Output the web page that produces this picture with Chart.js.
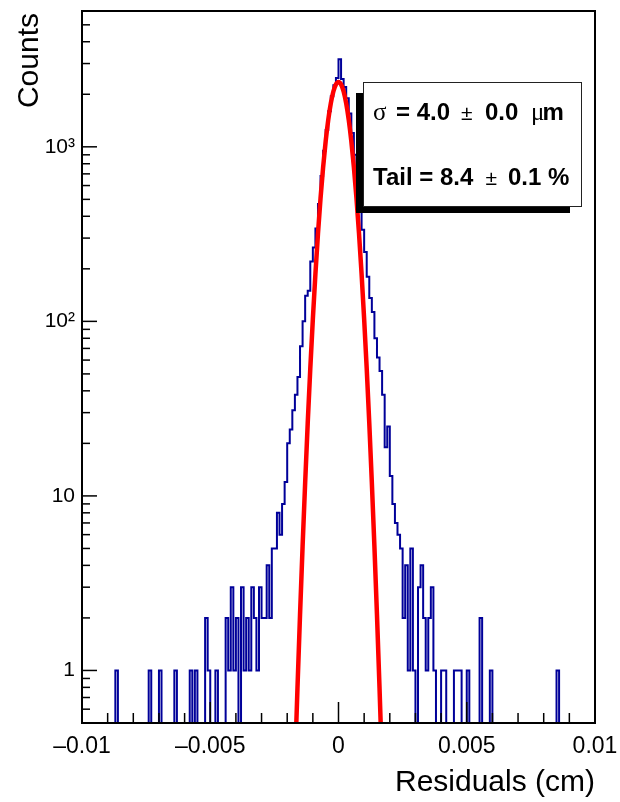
<!DOCTYPE html>
<html>
<head>
<meta charset="utf-8">
<script src="https://cdn.jsdelivr.net/npm/chart.js@4.4.1/dist/chart.umd.min.js"></script>
<style>
  body { margin: 0; background: #fff; }
  #wrap { width: 620px; height: 802px; }
</style>
</head>
<body>
<div id="wrap"><canvas id="myChart" width="620" height="802"></canvas></div>
<script>
// residual histogram: 200 bins of 0.0001 cm between -0.01 and 0.01
var binLow = -0.01;
var binWidth = 0.0001;
var counts = [
  0, 0, 0, 0, 0, 0, 0, 0, 0, 0, 0, 0, 0, 1, 0, 0, 0, 0, 0, 0,
  0, 0, 0, 0, 0, 0, 1, 0, 0, 0, 1, 0, 0, 0, 0, 0, 1, 0, 0, 0,
  0, 0, 1, 0, 1, 0, 0, 0, 2, 1, 0, 0, 1, 0, 0, 0, 2, 1, 3, 1,
  2, 0, 3, 1, 2, 1, 3, 2, 1, 3, 2, 2, 4, 2, 5, 5, 8, 6, 9, 12,
  20, 24, 31, 38, 48, 72, 100, 140, 150, 220, 265, 340, 470, 680, 950, 1250, 1600, 1950, 2250, 2480,
  3180, 2450, 2200, 1900, 1550, 1200, 900, 620, 430, 335, 250, 180, 136, 113, 80, 62, 52, 38, 19, 25,
  13, 9, 7, 6, 5, 2, 4, 1, 5, 1, 0, 3, 4, 2, 1, 2, 3, 1, 0, 0,
  1, 1, 0, 0, 0, 1, 1, 1, 0, 0, 1, 0, 0, 0, 0, 2, 0, 0, 0, 1,
  0, 0, 0, 0, 0, 0, 0, 0, 0, 0, 0, 0, 0, 0, 0, 0, 0, 0, 0, 0,
  0, 0, 0, 0, 0, 1, 0, 0, 0, 0, 0, 0, 0, 0, 0, 0, 0, 0, 0, 0
];

// red fit curve (gaussian core)
var fitX = [-0.0018, -0.0017, -0.0016, -0.0015, -0.0014, -0.0013, -0.0012, -0.0011, -0.0010, -0.0009,
  -0.0008, -0.0007, -0.0006, -0.0005, -0.0004, -0.0003, -0.0002, -0.0001, 0,
  0.0001, 0.0002, 0.0003, 0.0004, 0.0005, 0.0006, 0.0007, 0.0008, 0.0009, 0.0010,
  0.0011, 0.0012, 0.0013, 0.0014, 0.0015, 0.0016, 0.0017, 0.0018];
var fitY = [0.094, 0.28, 0.79, 2.08, 5.14, 11.9, 26.1, 53.6, 103, 187,
  318, 508, 763, 1076, 1425, 1774, 2074, 2278, 2350,
  2278, 2074, 1774, 1425, 1076, 763, 508, 318, 187, 103,
  53.6, 26.1, 11.9, 5.14, 2.08, 0.79, 0.28, 0.094];

var xTickValues = [-0.01, -0.005, 0, 0.005, 0.01];
var xTickLabels = ['\u20130.01', '\u20130.005', '0', '0.005', '0.01'];
var yTickValues = [1, 10, 100, 1000];
var yTickLabels = ['1', '10', '10\u00b2', '10\u00b3'];
var yMin = 0.5, yMax = 6000;

var statLines = [
  [['\u03c3', 'serif'], ['= 4.0', 'bold'], ['\u00b1', 'pm'], ['0.0', 'bold'], ['\u03bc', 'serif'], ['m', 'bold']],
  [['Tail = 8.4', 'bold'], ['\u00b1', 'pm'], ['0.1 %', 'bold']]
];
var statX = [[373, 396, 461, 485, 531, 542.5], [373, 485.5, 508]];
var statBase = [120, 185];

// empty bins sit on the bottom of the frame (log axis can't show 0)
var histPoints = counts.map(function(c, i) {
  return {x: binLow + i * binWidth, y: c > 0 ? c : yMin};
});
histPoints.push({x: binLow + counts.length * binWidth, y: yMin});

var fitPoints = fitX.map(function(x, i) { return {x: x, y: fitY[i]}; });

var fonts = {
  serif: '25px "Liberation Serif"',
  bold: 'bold 24px "Liberation Sans"',
  pm: '21px "Liberation Sans"'
};

var framePlugin = {
  id: 'frame',
  afterDatasetsDraw: function(chart) {
    var ctx = chart.ctx;
    var a = chart.chartArea;
    var xs = chart.scales.x, ys = chart.scales.y;
    ctx.save();
    ctx.strokeStyle = '#000';
    ctx.lineWidth = 1.5;
    // x ticks pointing up into the frame
    xs.ticks.forEach(function(t) {
      var px = xs.getPixelForValue(t.value);
      var major = Math.abs(t.value / 0.005 - Math.round(t.value / 0.005)) < 1e-6;
      ctx.beginPath();
      ctx.moveTo(px, a.bottom);
      ctx.lineTo(px, a.bottom - (major ? 21 : 10));
      ctx.stroke();
    });
    // y ticks pointing right
    ys.ticks.forEach(function(t) {
      var py = ys.getPixelForValue(t.value);
      var lg = Math.log10(t.value);
      var major = Math.abs(lg - Math.round(lg)) < 1e-6;
      ctx.beginPath();
      ctx.moveTo(a.left, py);
      ctx.lineTo(a.left + (major ? 15 : 8), py);
      ctx.stroke();
    });
    ctx.lineWidth = 2;
    ctx.strokeRect(a.left, a.top, a.right - a.left, a.bottom - a.top);

    // stats box with shadow
    ctx.fillStyle = '#000';
    ctx.fillRect(356, 93, 214, 120);
    ctx.fillStyle = '#fff';
    ctx.fillRect(363, 82, 218, 124);
    ctx.lineWidth = 1;
    ctx.strokeStyle = '#222';
    ctx.strokeRect(363.5, 82.5, 218, 124);
    ctx.fillStyle = '#000';
    ctx.textBaseline = 'alphabetic';
    ctx.textAlign = 'left';
    statLines.forEach(function(line, r) {
      line.forEach(function(seg, j) {
        ctx.font = fonts[seg[1]];
        ctx.fillText(seg[0], statX[r][j], statBase[r]);
      });
    });

    // axis titles
    ctx.font = '30px "Liberation Sans"';
    ctx.textAlign = 'right';
    ctx.fillText('Residuals (cm)', a.right, 791);
    ctx.translate(38, a.top + 2);
    ctx.rotate(-Math.PI / 2);
    ctx.fillText('Counts', 0, 0);
    ctx.restore();
  }
};

var ctx = document.getElementById('myChart');
var myChart = new Chart(ctx, {
  type: 'line',
  data: {
    datasets: [{
      data: fitPoints,
      borderColor: '#ff0000',
      borderWidth: 4.5,
      pointRadius: 0,
      cubicInterpolationMode: 'monotone',
      clip: 0,
      order: 0
    }, {
      data: histPoints,
      borderColor: '#000099',
      borderWidth: 2,
      pointRadius: 0,
      stepped: true,
      order: 1
    }]
  },
  options: {
    responsive: false,
    animation: false,
    layout: { padding: { top: 11, right: 25, left: 0, bottom: 0 } },
    plugins: { legend: { display: false }, tooltip: { enabled: false } },
    scales: {
      x: {
        type: 'linear',
        min: -0.01,
        max: 0.01,
        grid: { display: false, drawTicks: false },
        border: { display: false },
        afterBuildTicks: function(s) {
          var t = [];
          for (var i = -10; i <= 10; i++) t.push({ value: i / 1000 });
          s.ticks = t;
        },
        afterFit: function(s) {
          s.height = 79;
          s.paddingLeft = 0; s.paddingRight = 0;
        },
        ticks: {
          autoSkip: false,
          maxRotation: 0,
          padding: 10,
          color: '#000',
          font: { family: 'Liberation Sans', size: 23 },
          callback: function(v) {
            for (var j = 0; j < xTickValues.length; j++) {
              if (Math.abs(xTickValues[j] - v) < 1e-9) return xTickLabels[j];
            }
            return '';
          }
        }
      },
      y: {
        type: 'logarithmic',
        min: yMin,
        max: yMax,
        grid: { display: false, drawTicks: false },
        border: { display: false },
        afterBuildTicks: function(s) {
          var t = [];
          for (var d = 0.1; d <= 1000; d *= 10) {
            for (var m = 1; m <= 9; m++) {
              var v = Math.round(d * m * 1000) / 1000;
              if (v >= 0.6 && v <= 5000) t.push({ value: v });
            }
          }
          s.ticks = t;
        },
        afterFit: function(s) {
          s.width = 82;
          s.paddingTop = 0; s.paddingBottom = 0;
        },
        ticks: {
          autoSkip: false,
          padding: 7,
          color: '#000',
          font: { family: 'Liberation Sans', size: 21 },
          callback: function(v) {
            var j = yTickValues.indexOf(v);
            return j < 0 ? '' : yTickLabels[j];
          }
        }
      }
    }
  },
  plugins: [framePlugin]
});
</script>
</body>
</html>
